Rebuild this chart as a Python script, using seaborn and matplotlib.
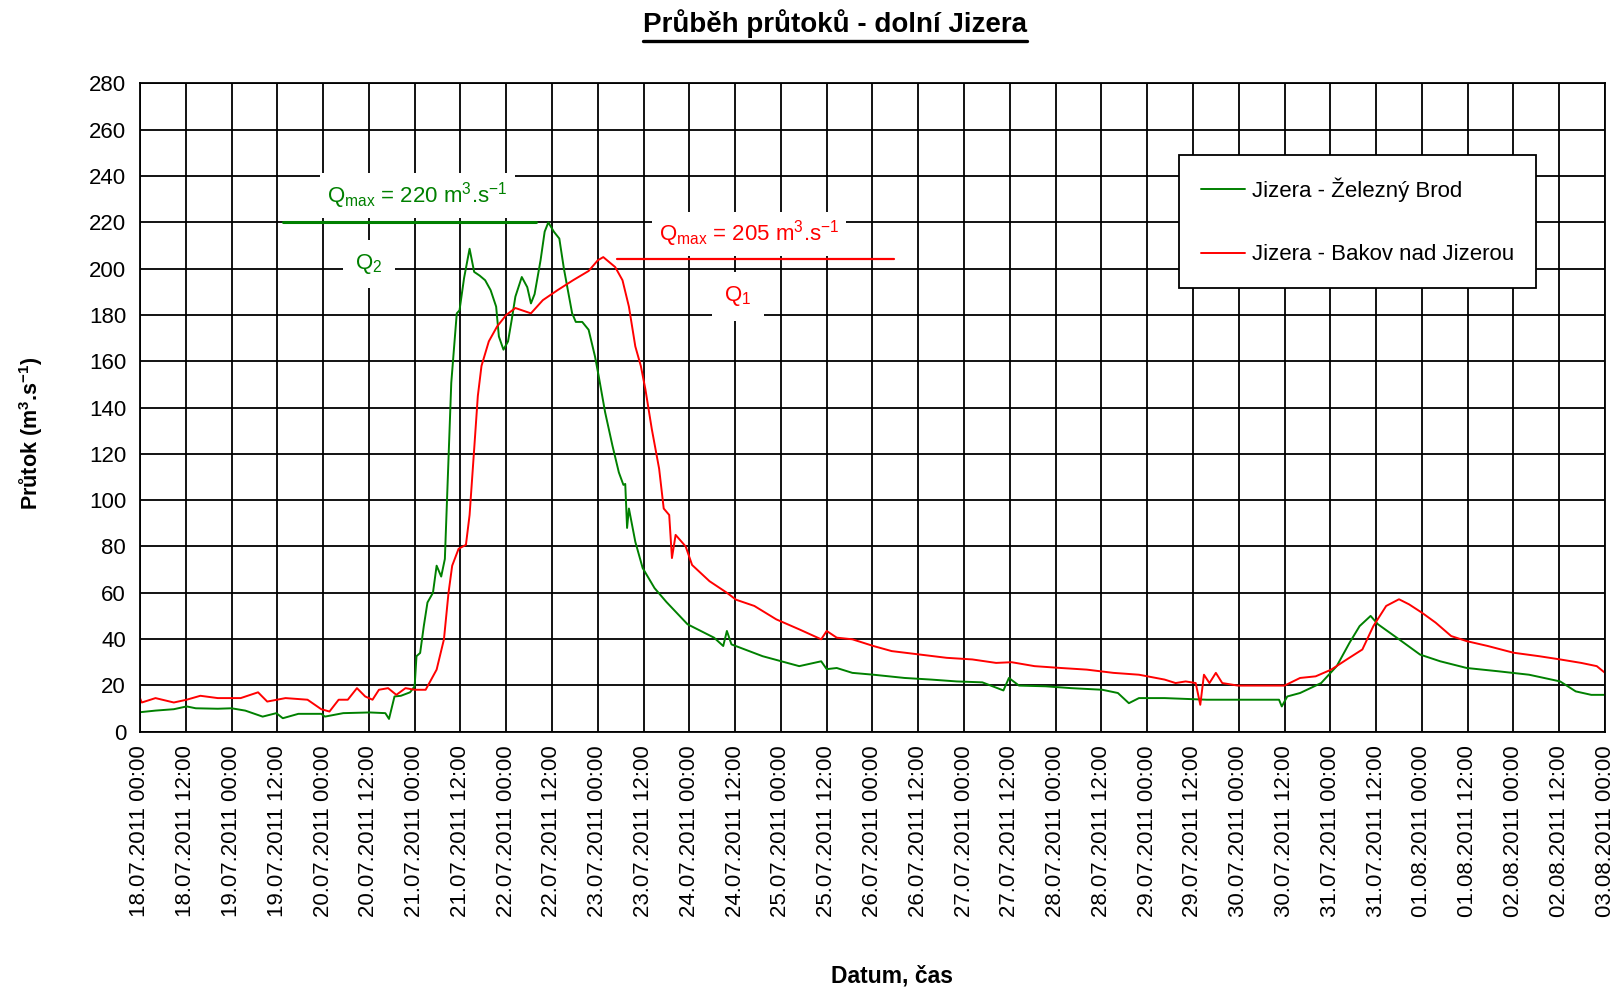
import numpy as np
import pandas as pd
import matplotlib
matplotlib.use('Agg')
import matplotlib.pyplot as plt
import matplotlib.dates as mdates
from matplotlib.lines import Line2D
import seaborn as sns

START = pd.Timestamp('2011-07-18 00:00')
END = pd.Timestamp('2011-08-03 00:00')

# Jizera - Zelezny Brod: offset from START in days, flow in m3/s
zb_day = [0.00, 0.17, 0.37, 0.51, 0.61, 0.85, 1.00, 1.15, 1.34, 1.49, 1.56, 1.73,
          1.98, 2.02, 2.22, 2.51, 2.68, 2.72, 2.78, 2.85, 2.95, 3.00, 3.02, 3.06,
          3.10, 3.14, 3.20, 3.24, 3.29, 3.33, 3.40, 3.46, 3.49, 3.54, 3.60, 3.65,
          3.71, 3.77, 3.83, 3.89, 3.92, 3.97, 4.02, 4.06, 4.10, 4.17, 4.23, 4.27,
          4.31, 4.375, 4.42, 4.46, 4.52, 4.58, 4.63, 4.72, 4.76, 4.83, 4.90, 4.97,
          5.01, 5.08, 5.16, 5.23, 5.28, 5.30, 5.32, 5.34, 5.41, 5.49, 5.62, 5.75,
          5.98, 6.27, 6.37, 6.41, 6.46, 6.80, 7.20, 7.44, 7.50, 7.61, 7.78, 8.01,
          8.35, 8.64, 8.92, 9.20, 9.43, 9.49, 9.60, 9.89, 10.17, 10.51, 10.68, 10.80,
          10.91, 11.19, 11.65, 11.99, 12.44, 12.47, 12.53, 12.67, 12.90, 13.07, 13.21, 13.32,
          13.44, 13.52, 13.75, 13.98, 14.20, 14.49, 14.83, 15.17, 15.51, 15.68, 15.85, 16.00]
zb_q = [8.4, 9.1, 9.7, 10.9, 10.1, 9.9, 10.1, 9.1, 6.5, 8.0, 5.8, 7.7,
        7.7, 6.5, 8.0, 8.3, 8.0, 5.5, 15.2, 15.5, 17.0, 19.6, 32.6, 34.0,
        45.6, 55.8, 60.0, 71.7, 67.0, 74.6, 150.7, 180.7, 182.0, 196.0, 208.6, 198.6,
        197.0, 195.0, 190.7, 183.6, 170.7, 165.0, 168.6, 177.9, 187.9, 196.4, 192.0, 185.0,
        189.0, 203.6, 216.0, 220.0, 216.0, 213.0, 200.0, 180.7, 177.0, 177.0, 173.6, 162.0,
        153.6, 138.0, 123.6, 112.0, 106.6, 107.0, 88.0, 96.4, 82.0, 70.7, 62.0, 56.0,
        46.4, 40.6, 37.0, 43.5, 37.7, 32.6, 28.3, 30.4, 27.0, 27.5, 25.4, 24.6,
        23.2, 22.5, 21.7, 21.3, 17.8, 23.2, 19.9, 19.6, 18.8, 18.1, 16.7, 12.3,
        14.5, 14.5, 13.8, 13.8, 13.8, 10.9, 15.2, 16.7, 21.0, 28.3, 38.4, 45.6,
        50.0, 46.4, 39.9, 33.3, 30.4, 27.5, 26.1, 24.6, 21.7, 17.4, 15.9, 15.9]

# Jizera - Bakov nad Jizerou
bk_day = [0.00, 0.02, 0.17, 0.37, 0.51, 0.66, 0.85, 1.10, 1.29, 1.39, 1.59, 1.83,
          1.98, 2.07, 2.17, 2.27, 2.37, 2.46, 2.54, 2.61, 2.71, 2.80, 2.90, 3.00,
          3.12, 3.24, 3.32, 3.37, 3.41, 3.48, 3.56, 3.60, 3.65, 3.69, 3.73, 3.81,
          3.90, 4.00, 4.10, 4.27, 4.40, 4.56, 4.73, 4.90, 5.00, 5.06, 5.12, 5.19,
          5.27, 5.34, 5.41, 5.47, 5.52, 5.59, 5.67, 5.72, 5.78, 5.81, 5.85, 5.96,
          6.03, 6.22, 6.41, 6.51, 6.71, 6.95, 7.20, 7.44, 7.50, 7.61, 7.78, 8.01,
          8.21, 8.52, 8.81, 9.09, 9.35, 9.52, 9.77, 10.06, 10.34, 10.63, 10.91, 11.19,
          11.31, 11.42, 11.53, 11.58, 11.62, 11.68, 11.75, 11.82, 11.99, 12.22, 12.50, 12.67,
          12.84, 13.01, 13.18, 13.35, 13.47, 13.61, 13.75, 13.86, 14.00, 14.15, 14.32, 14.49,
          14.72, 15.00, 15.28, 15.51, 15.74, 15.91, 16.00]
bk_q = [14.5, 12.6, 14.5, 12.6, 13.8, 15.5, 14.5, 14.5, 17.0, 13.0, 14.5, 13.8,
        9.7, 8.7, 13.8, 13.8, 18.8, 15.2, 13.8, 18.1, 18.8, 15.9, 18.8, 18.1,
        18.1, 26.8, 39.9, 60.0, 71.7, 79.0, 80.7, 93.6, 122.0, 145.0, 158.0, 168.6,
        175.0, 180.0, 183.0, 180.7, 186.4, 190.7, 195.0, 199.0, 203.6, 205.0, 203.0, 200.7,
        195.0, 183.6, 166.4, 158.0, 147.9, 130.7, 113.6, 96.4, 93.6, 75.0, 85.0, 80.0,
        72.0, 65.0, 60.0, 57.0, 54.3, 48.5, 44.2, 39.9, 43.5, 40.6, 39.9, 37.0,
        34.8, 33.3, 31.9, 31.2, 29.7, 30.0, 28.3, 27.5, 26.8, 25.4, 24.6, 22.5,
        21.0, 21.7, 21.0, 11.6, 24.6, 21.0, 25.4, 21.0, 19.9, 19.9, 19.9, 23.2,
        23.9, 26.8, 31.2, 35.5, 45.6, 54.3, 57.2, 55.0, 51.4, 47.1, 41.3, 39.1,
        37.0, 34.1, 32.6, 31.2, 29.7, 28.3, 25.4]

station_names = ['Jizera - Železný Brod', 'Jizera - Bakov nad Jizerou']
station_colors = ['#008000', '#ff0000']
peak_labels = ['Q$_{max}$ = 220 m$^{3}$.s$^{-1}$', 'Q$_{max}$ = 205 m$^{3}$.s$^{-1}$']
q_labels = ['Q$_{2}$', 'Q$_{1}$']
y_ticks = np.arange(0, 281, 20)

sns.set_style('white')
plt.rcParams['font.family'] = ['Liberation Sans', 'DejaVu Sans']
plt.rcParams['mathtext.default'] = 'regular'
plt.rcParams['text.color'] = 'black'

frames = []
for name, days, q in [(station_names[0], zb_day, zb_q), (station_names[1], bk_day, bk_q)]:
    frames.append(pd.DataFrame({
        'cas': START + pd.to_timedelta(days, unit='D'),
        'prutok': q,
        'stanice': name,
    }))
df = pd.concat(frames, ignore_index=True)

fig = plt.figure(figsize=(16.16, 9.89), dpi=100)
ax = fig.add_axes([0.0866, 0.2602, 0.9066, 0.6554])

sns.lineplot(data=df, x='cas', y='prutok', hue='stanice', hue_order=station_names,
             palette=dict(zip(station_names, station_colors)), estimator=None,
             linewidth=1.4, ax=ax)

ax.set_xlim(START, END)
ax.set_ylim(0, 280)
ax.set_yticks(y_ticks)
ax.xaxis.set_major_locator(mdates.HourLocator(byhour=[0, 12]))
ax.xaxis.set_major_formatter(mdates.DateFormatter('%d.%m.%Y %H:%M'))
ax.tick_params(axis='x', rotation=90)
ax.tick_params(direction='out', length=5, width=1.2, colors='black', labelsize=16, pad=5)
ax.set_xlabel('')
ax.set_ylabel('')
ax.grid(True, color='black', linewidth=1.3)
ax.set_axisbelow(True)
for sp in ax.spines.values():
    sp.set_color('black')
    sp.set_linewidth(1.3)

# Qmax marks
ann = [
    # (series, line start/end day, text pos, Q label pos, line width)
    (zb_q, (1.56, 4.33), (3.03, 231.5), (2.50, 202.0), 2.2),
    (bk_q, (5.21, 8.24), (6.65, 215.0), (6.53, 188.0), 1.6),
]
for i, (q, (d0, d1), (tx, ty), (qx, qy), lw) in enumerate(ann):
    qmax = max(q)
    if i == 1:
        qmax = qmax - 0.7
    x0 = mdates.date2num(START + pd.Timedelta(days=d0))
    x1 = mdates.date2num(START + pd.Timedelta(days=d1))
    ax.plot([x0, x1], [qmax, qmax], color=station_colors[i], linewidth=lw, zorder=6)
    ax.text(mdates.date2num(START + pd.Timedelta(days=tx)), ty, peak_labels[i],
            color=station_colors[i], fontsize=16, ha='center', va='center', zorder=5,
            bbox=dict(facecolor='white', edgecolor='none', pad=5))
    ax.text(mdates.date2num(START + pd.Timedelta(days=qx)), qy, q_labels[i],
            color=station_colors[i], fontsize=16, ha='center', va='center', zorder=5,
            bbox=dict(facecolor='white', edgecolor='none', pad=9))

handles = [Line2D([], [], color=c, linewidth=1.4) for c in station_colors]
leg = ax.legend(handles, station_names, loc='upper left', bbox_to_anchor=(0.709, 0.889),
                fontsize=16, frameon=True, fancybox=False, framealpha=1,
                borderpad=1.0, labelspacing=1.9, handlelength=2.0, handletextpad=0.3,
                borderaxespad=0)
leg.get_frame().set_edgecolor('black')
leg.get_frame().set_linewidth(1.3)
leg.set_zorder(7)

title = fig.text(0.517, 0.976, 'Průběh průtoků - dolní Jizera', fontsize=20,
                 fontweight='bold', ha='center', va='center')
fig.text(0.552, 0.013, 'Datum, čas', fontsize=16.5, fontweight='bold', ha='center', va='center')
fig.text(0.019, 0.562, 'Průtok (m$^{3}$.s$^{-1}$)', fontsize=15.5, fontweight='bold',
         rotation=90, ha='center', va='center')

fig.canvas.draw()
bb = title.get_window_extent().transformed(fig.transFigure.inverted())
fig.add_artist(Line2D([bb.x0, bb.x1], [bb.y0 - 0.003, bb.y0 - 0.003],
                      transform=fig.transFigure, color='black', linewidth=2.4))

fig.savefig('out.png', dpi=100)
